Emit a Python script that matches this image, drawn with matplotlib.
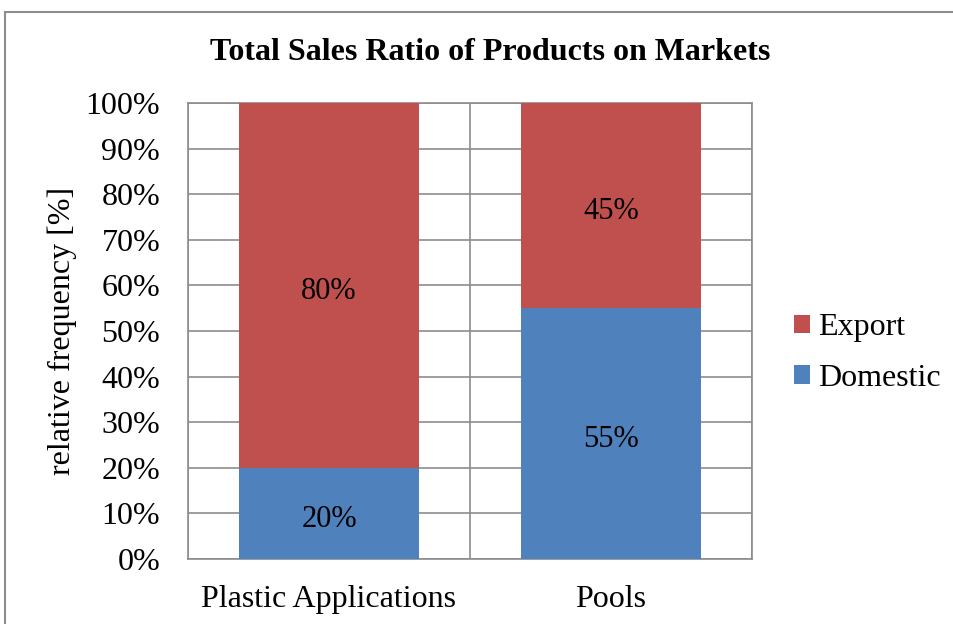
import numpy as np
import matplotlib.pyplot as plt
from matplotlib.patches import Rectangle

# sales share per product group, in percent
categories = ['Plastic Applications', 'Pools']
domestic = [20, 55]
export = [80, 45]

red = '#C0504D'
blue = '#4F81BD'
grid_col = '#8C8C8C'
fs = 23

plt.rcParams['font.family'] = ['Liberation Serif', 'DejaVu Serif']

fig = plt.figure(figsize=(9.54, 6.24), dpi=100)
ax = fig.add_axes([188/954, 1-559/624, (752-188)/954, (559-103)/624])

x = np.arange(len(categories))
w = 0.64
b1 = ax.bar(x, domestic, w, color=blue, label='Domestic', zorder=3)
b2 = ax.bar(x, export, w, bottom=domestic, color=red, label='Export', zorder=3)

for bars, vals, base in [(b1, domestic, [0, 0]), (b2, export, domestic)]:
    for rect, v, b in zip(bars, vals, base):
        ax.annotate('%d%%' % v, (rect.get_x() + rect.get_width()/2, b + v/2),
                    xytext=(0, -4.3), textcoords='offset points',
                    ha='center', va='center', fontsize=22, zorder=4)

ax.set_xlim(-0.5, len(categories) - 0.5)
ax.set_ylim(0, 100)
ax.set_yticks(np.arange(0, 101, 10))
ax.set_yticklabels(['%d%%' % t for t in range(0, 101, 10)], fontsize=fs)
ax.set_xticks(x)
ax.set_xticklabels(categories, fontsize=fs)
ax.set_xticks(np.arange(-0.5, len(categories), 1), minor=True)
ax.tick_params(axis='both', which='both', length=0)
ax.tick_params(axis='y', pad=20)
ax.tick_params(axis='x', pad=19)
ax.grid(axis='y', color=grid_col, linewidth=1.2, zorder=0)
ax.grid(axis='x', which='minor', color=grid_col, linewidth=1.2, zorder=0)
for s in ax.spines.values():
    s.set_color(grid_col)
    s.set_linewidth(1.2)

fig.text(62/954, 1-331/624, 'relative frequency [%]', rotation=90,
         ha='center', va='center', fontsize=fs)
fig.text(490/954, 1-52/624, 'Total Sales Ratio of Products on Markets',
         ha='center', va='center', fontsize=fs, fontweight='bold')

handles, labels = ax.get_legend_handles_labels()
fig.legend(handles[::-1], labels[::-1], loc='center left',
           bbox_to_anchor=(765/954, 1-353/624), frameon=False, fontsize=fs,
           handlelength=0.5, handleheight=0.5, handletextpad=0.25,
           labelspacing=0.68)

# outer chart border
fig.patches.append(Rectangle((5/954, -0.05), 1.1, 1 - 12/624 + 0.05,
                             transform=fig.transFigure, fill=False,
                             edgecolor='#8C8C8C', linewidth=1.5))

fig.savefig('out.png', dpi=100)
